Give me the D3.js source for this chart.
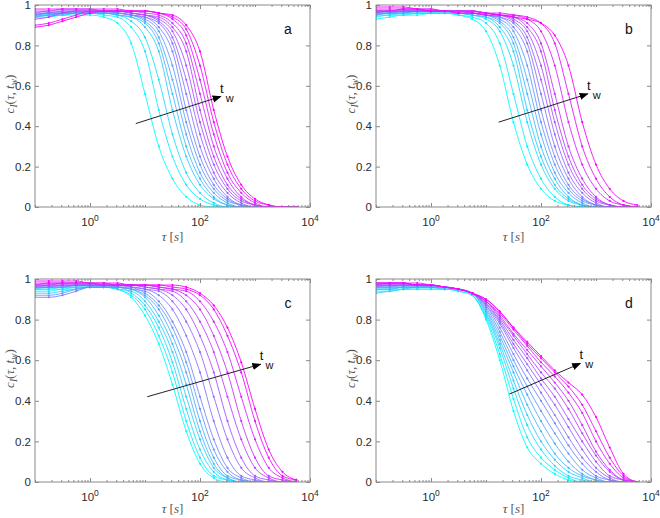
<!DOCTYPE html>
<html>
<head>
<meta charset="utf-8">
<script src="https://cdn.jsdelivr.net/npm/d3@7"></script>
<style>
  body { margin: 0; background: #fff; }
  svg { display: block; }
</style>
</head>
<body>
<svg id="chart" width="660" height="518"></svg>
<script>
// lag times tau [s] shared by every curve (quarter-decade steps)
const tauGrid = [0.1, 0.178, 0.316, 0.562, 1, 1.78, 3.16, 5.62, 10, 17.8, 31.6, 56.2, 100, 178, 316, 562, 1000, 1778, 3162, 5623];

// c_I(tau, t_w), one row per waiting time t_w (short -> long, cyan -> magenta)
const curvesA = [
  [0.94,0.94,0.95,0.95,0.95,0.94,0.91,0.81,0.56,0.30,0.14,0.05,0.01,0,0,0,0,0,0,0],
  [0.95,0.95,0.95,0.96,0.96,0.95,0.94,0.89,0.77,0.48,0.25,0.11,0.04,0.01,0,0,0,0,0,0],
  [0.95,0.95,0.96,0.96,0.96,0.96,0.95,0.92,0.84,0.63,0.36,0.17,0.07,0.02,0,0,0,0,0,0],
  [0.94,0.95,0.95,0.96,0.96,0.96,0.95,0.94,0.89,0.77,0.48,0.25,0.11,0.04,0.01,0,0,0,0,0],
  [0.95,0.95,0.96,0.96,0.96,0.96,0.95,0.94,0.91,0.81,0.56,0.30,0.14,0.05,0.01,0,0,0,0,0],
  [0.94,0.95,0.96,0.96,0.96,0.96,0.96,0.95,0.92,0.84,0.63,0.36,0.17,0.07,0.02,0,0,0,0,0],
  [0.95,0.96,0.96,0.96,0.96,0.96,0.96,0.95,0.93,0.87,0.70,0.42,0.21,0.09,0.03,0.01,0,0,0,0],
  [0.95,0.96,0.96,0.96,0.96,0.96,0.96,0.95,0.94,0.89,0.77,0.48,0.25,0.11,0.04,0.01,0,0,0,0],
  [0.95,0.96,0.96,0.97,0.97,0.97,0.96,0.95,0.94,0.91,0.81,0.56,0.30,0.14,0.05,0.01,0,0,0,0],
  [0.96,0.96,0.97,0.97,0.97,0.97,0.97,0.96,0.95,0.92,0.84,0.63,0.36,0.17,0.07,0.02,0,0,0,0],
  [0.96,0.97,0.97,0.97,0.97,0.97,0.97,0.96,0.95,0.93,0.87,0.70,0.42,0.21,0.09,0.03,0.01,0,0,0],
  [0.93,0.94,0.96,0.97,0.97,0.97,0.97,0.96,0.95,0.94,0.89,0.77,0.48,0.25,0.11,0.04,0.01,0,0,0],
  [0.97,0.97,0.98,0.98,0.98,0.97,0.97,0.97,0.96,0.95,0.91,0.81,0.56,0.30,0.14,0.05,0.01,0,0,0],
  [0.90,0.91,0.93,0.95,0.97,0.97,0.97,0.97,0.97,0.96,0.93,0.85,0.63,0.36,0.17,0.07,0.02,0,0,0],
  [0.98,0.98,0.98,0.98,0.98,0.98,0.98,0.97,0.97,0.96,0.94,0.88,0.70,0.42,0.21,0.09,0.03,0.01,0,0],
  [0.89,0.90,0.92,0.94,0.96,0.97,0.97,0.97,0.97,0.96,0.95,0.90,0.77,0.48,0.25,0.11,0.04,0.01,0,0]
];

const curvesB = [
  [0.93,0.94,0.95,0.95,0.96,0.96,0.95,0.93,0.87,0.70,0.42,0.21,0.09,0.03,0.01,0,0,0,0,0],
  [0.94,0.95,0.95,0.96,0.96,0.96,0.95,0.94,0.91,0.81,0.56,0.30,0.14,0.05,0.01,0,0,0,0,0],
  [0.95,0.95,0.96,0.96,0.96,0.96,0.96,0.95,0.93,0.87,0.70,0.42,0.21,0.09,0.03,0.01,0,0,0,0],
  [0.95,0.96,0.96,0.96,0.96,0.96,0.96,0.95,0.94,0.89,0.77,0.48,0.25,0.11,0.04,0.01,0,0,0,0],
  [0.96,0.96,0.96,0.97,0.97,0.97,0.96,0.95,0.94,0.91,0.81,0.56,0.30,0.14,0.05,0.01,0,0,0,0],
  [0.96,0.96,0.97,0.97,0.97,0.97,0.97,0.96,0.95,0.92,0.84,0.63,0.36,0.17,0.07,0.02,0,0,0,0],
  [0.95,0.96,0.96,0.97,0.97,0.97,0.97,0.96,0.95,0.93,0.87,0.70,0.42,0.21,0.09,0.03,0.01,0,0,0],
  [0.96,0.96,0.97,0.97,0.97,0.97,0.97,0.96,0.95,0.94,0.89,0.77,0.48,0.25,0.11,0.04,0.01,0,0,0],
  [0.96,0.97,0.97,0.97,0.97,0.97,0.97,0.96,0.95,0.94,0.91,0.81,0.56,0.30,0.14,0.05,0.01,0,0,0],
  [0.97,0.97,0.97,0.97,0.97,0.97,0.97,0.97,0.96,0.95,0.92,0.84,0.63,0.36,0.17,0.07,0.02,0,0,0],
  [0.96,0.97,0.97,0.97,0.97,0.97,0.97,0.97,0.96,0.95,0.93,0.87,0.70,0.42,0.21,0.09,0.03,0.01,0,0],
  [0.97,0.97,0.97,0.97,0.97,0.97,0.97,0.97,0.96,0.95,0.94,0.89,0.77,0.48,0.25,0.11,0.04,0.01,0,0],
  [0.97,0.97,0.98,0.98,0.98,0.97,0.97,0.97,0.96,0.95,0.94,0.91,0.81,0.56,0.30,0.14,0.05,0.01,0,0],
  [0.97,0.97,0.98,0.98,0.98,0.97,0.97,0.97,0.96,0.96,0.95,0.93,0.87,0.70,0.42,0.21,0.09,0.03,0.01,0],
  [0.98,0.98,0.98,0.98,0.97,0.97,0.96,0.96,0.96,0.95,0.95,0.94,0.91,0.81,0.56,0.30,0.14,0.05,0.01,0],
  [0.99,0.99,0.99,0.98,0.97,0.97,0.96,0.96,0.95,0.95,0.94,0.93,0.91,0.85,0.70,0.42,0.21,0.09,0.03,0.01]
];

const curvesC = [
  [0.95,0.95,0.95,0.96,0.96,0.96,0.95,0.91,0.82,0.68,0.48,0.25,0.09,0.02,0,0,0,0,0,0],
  [0.94,0.94,0.95,0.95,0.96,0.96,0.95,0.92,0.85,0.72,0.54,0.30,0.12,0.03,0.01,0,0,0,0,0],
  [0.95,0.95,0.96,0.96,0.96,0.96,0.96,0.93,0.87,0.76,0.59,0.36,0.16,0.05,0.01,0,0,0,0,0],
  [0.93,0.93,0.94,0.95,0.96,0.96,0.95,0.94,0.89,0.79,0.64,0.42,0.21,0.07,0.02,0,0,0,0,0],
  [0.95,0.96,0.96,0.96,0.96,0.96,0.96,0.95,0.91,0.82,0.68,0.48,0.25,0.09,0.02,0,0,0,0,0],
  [0.92,0.92,0.93,0.95,0.96,0.96,0.96,0.95,0.92,0.85,0.72,0.54,0.30,0.12,0.03,0.01,0,0,0,0],
  [0.96,0.96,0.96,0.97,0.97,0.97,0.97,0.96,0.93,0.87,0.76,0.59,0.36,0.16,0.05,0.01,0,0,0,0],
  [0.96,0.96,0.96,0.97,0.97,0.97,0.96,0.95,0.94,0.89,0.79,0.64,0.42,0.21,0.07,0.02,0,0,0,0],
  [0.91,0.91,0.92,0.94,0.96,0.96,0.96,0.96,0.95,0.92,0.85,0.72,0.54,0.30,0.12,0.03,0.01,0,0,0],
  [0.96,0.96,0.97,0.97,0.97,0.97,0.97,0.96,0.95,0.94,0.89,0.79,0.64,0.42,0.21,0.07,0.02,0,0,0],
  [0.96,0.97,0.97,0.97,0.97,0.97,0.97,0.97,0.96,0.95,0.92,0.85,0.72,0.54,0.30,0.12,0.03,0.01,0,0],
  [0.97,0.97,0.97,0.97,0.97,0.97,0.97,0.97,0.96,0.95,0.94,0.89,0.79,0.64,0.42,0.21,0.07,0.02,0,0],
  [0.97,0.97,0.98,0.98,0.98,0.97,0.97,0.97,0.97,0.96,0.95,0.92,0.85,0.72,0.54,0.30,0.12,0.03,0.01,0],
  [0.97,0.98,0.98,0.98,0.98,0.97,0.97,0.97,0.97,0.96,0.95,0.94,0.89,0.79,0.64,0.42,0.21,0.07,0.02,0],
  [0.98,0.98,0.98,0.98,0.98,0.98,0.97,0.97,0.97,0.97,0.96,0.95,0.92,0.85,0.72,0.54,0.30,0.12,0.03,0.01],
  [0.99,0.99,0.99,0.99,0.98,0.98,0.98,0.97,0.97,0.97,0.97,0.96,0.93,0.87,0.76,0.59,0.36,0.16,0.05,0.01]
];

const curvesD = [
  [0.95,0.95,0.95,0.95,0.95,0.95,0.94,0.92,0.80,0.60,0.35,0.17,0.09,0.04,0.01,0,0,0,0,0],
  [0.94,0.94,0.95,0.95,0.95,0.95,0.94,0.92,0.81,0.63,0.41,0.22,0.12,0.06,0.02,0,0,0,0,0],
  [0.95,0.95,0.96,0.96,0.96,0.95,0.95,0.92,0.82,0.66,0.46,0.28,0.16,0.08,0.03,0.01,0,0,0,0],
  [0.93,0.94,0.95,0.96,0.96,0.95,0.95,0.93,0.83,0.68,0.50,0.33,0.20,0.11,0.05,0.02,0,0,0,0],
  [0.96,0.96,0.96,0.96,0.96,0.96,0.95,0.93,0.84,0.70,0.54,0.38,0.25,0.14,0.07,0.03,0.01,0,0,0],
  [0.95,0.95,0.96,0.96,0.96,0.96,0.95,0.93,0.85,0.72,0.57,0.43,0.30,0.19,0.10,0.04,0.01,0,0,0],
  [0.96,0.96,0.96,0.96,0.96,0.96,0.95,0.93,0.86,0.74,0.60,0.47,0.35,0.24,0.14,0.06,0.02,0,0,0],
  [0.96,0.96,0.97,0.97,0.96,0.96,0.95,0.93,0.87,0.76,0.63,0.51,0.40,0.29,0.18,0.09,0.03,0.01,0,0],
  [0.96,0.97,0.97,0.97,0.97,0.96,0.95,0.93,0.87,0.78,0.66,0.55,0.44,0.33,0.22,0.12,0.05,0.01,0,0],
  [0.97,0.97,0.97,0.97,0.97,0.96,0.95,0.93,0.88,0.79,0.68,0.58,0.48,0.38,0.27,0.16,0.07,0.02,0,0],
  [0.97,0.97,0.97,0.97,0.97,0.96,0.95,0.93,0.88,0.80,0.70,0.61,0.51,0.42,0.31,0.20,0.10,0.03,0.01,0],
  [0.97,0.97,0.97,0.97,0.97,0.96,0.95,0.93,0.89,0.81,0.72,0.63,0.54,0.46,0.36,0.24,0.13,0.05,0.01,0],
  [0.97,0.98,0.98,0.97,0.97,0.96,0.95,0.93,0.89,0.82,0.73,0.65,0.57,0.49,0.40,0.28,0.15,0.06,0.01,0],
  [0.98,0.98,0.98,0.97,0.97,0.96,0.95,0.93,0.89,0.83,0.75,0.67,0.59,0.52,0.44,0.34,0.20,0.09,0.02,0],
  [0.98,0.98,0.98,0.98,0.97,0.96,0.95,0.93,0.90,0.84,0.76,0.68,0.61,0.54,0.47,0.38,0.25,0.12,0.03,0],
  [0.98,0.98,0.98,0.97,0.97,0.96,0.95,0.93,0.90,0.84,0.76,0.69,0.62,0.55,0.49,0.43,0.32,0.17,0.04,0]
];

// axis ticks
const yTicks = [0, 0.2, 0.4, 0.6, 0.8, 1];
const xMajorExp = [0, 2, 4];
const panelNames = ["a", "b", "c", "d"];

// panel boxes (pixels) and t_w arrow ends in data units
const panels = [
  { data: curvesA, x0: 35,  x1: 310, yTop: 5,   yBot: 207, xlab: 34, arrow: [[6.8, 0.413], [238, 0.547]] },
  { data: curvesB, x0: 376, x1: 651, yTop: 5,   yBot: 207, xlab: 34, arrow: [[17, 0.42], [708, 0.56]] },
  { data: curvesC, x0: 35,  x1: 310, yTop: 279, yBot: 482, xlab: 31, arrow: [[11, 0.42], [1260, 0.58]] },
  { data: curvesD, x0: 376, x1: 651, yTop: 279, yBot: 482, xlab: 31, arrow: [[26.6, 0.433], [518, 0.584]] }
];

const svg = d3.select("#chart");
const axisColor = "#8a8a8a";
const textColor = "#2b2b2b";
const sans = "'Liberation Sans', Arial, Helvetica, sans-serif";
const serif = "'Liberation Serif', 'DejaVu Serif', serif";
const cool = d3.interpolateRgb("#00ffff", "#ff00ff");

svg.append("defs").append("marker")
  .attr("id", "head")
  .attr("viewBox", "0 0 10 10")
  .attr("refX", 9).attr("refY", 5)
  .attr("markerWidth", 9).attr("markerHeight", 9)
  .attr("markerUnits", "userSpaceOnUse")
  .attr("orient", "auto")
  .append("path")
  .attr("d", "M0,1 L10,5 L0,9 Z")
  .attr("fill", "#000");

// minor tick positions on the log axis
const minorTicks = [];
for (let e = -1; e <= 3; e++) {
  for (let k = 1; k <= 9; k++) minorTicks.push(k * Math.pow(10, e));
}

panels.forEach((p, pi) => {
  const g = svg.append("g");

  const x = d3.scaleLog().domain([0.1, 1e4]).range([p.x0, p.x1]);
  const y = d3.scaleLinear().domain([0, 1]).range([p.yBot, p.yTop]);

  const clipId = "clip" + pi;
  g.append("clipPath").attr("id", clipId)
    .append("rect")
    .attr("x", p.x0).attr("y", p.yTop - 2)
    .attr("width", p.x1 - p.x0).attr("height", p.yBot - p.yTop + 2);

  const plot = g.append("g").attr("clip-path", `url(#${clipId})`);
  const n = p.data.length;

  const line = d3.line()
    .x((d, i) => x(tauGrid[i]))
    .y(d => y(d))
    .curve(d3.curveMonotoneX);

  p.data.forEach((vals, j) => {
    const col = cool(j / (n - 1));
    plot.append("path")
      .attr("d", line(vals))
      .attr("fill", "none")
      .attr("stroke", col)
      .attr("stroke-width", 0.9);

    plot.selectAll(null)
      .data(vals)
      .enter()
      .append("circle")
      .attr("cx", (d, i) => x(tauGrid[i]))
      .attr("cy", d => y(d))
      .attr("r", 1.1)
      .attr("fill", col);
  });

  // box
  g.append("rect")
    .attr("x", p.x0).attr("y", p.yTop)
    .attr("width", p.x1 - p.x0).attr("height", p.yBot - p.yTop)
    .attr("fill", "none")
    .attr("stroke", axisColor)
    .attr("stroke-width", 1);

  // inward ticks on all four sides
  const sides = [
    [d3.axisBottom, p.yBot], [d3.axisTop, p.yTop]
  ];
  sides.forEach(([ax, yy]) => {
    g.append("g").attr("transform", `translate(0,${yy})`)
      .call(ax(x).tickValues(minorTicks).tickSize(-2).tickFormat(""))
      .call(s => s.select(".domain").remove())
      .call(s => s.selectAll("line").attr("stroke", axisColor));
    g.append("g").attr("transform", `translate(0,${yy})`)
      .call(ax(x).tickValues(xMajorExp.map(e => Math.pow(10, e))).tickSize(-4).tickFormat(""))
      .call(s => s.select(".domain").remove())
      .call(s => s.selectAll("line").attr("stroke", axisColor));
  });

  g.append("g").attr("transform", `translate(${p.x0},0)`)
    .call(d3.axisLeft(y).tickValues(yTicks).tickSize(-4).tickPadding(4).tickFormat(d3.format("")))
    .call(s => s.select(".domain").remove())
    .call(s => s.selectAll("line").attr("stroke", axisColor))
    .call(s => s.selectAll("text")
      .attr("fill", textColor)
      .style("font-family", sans)
      .style("font-size", "11.5px"));

  g.append("g").attr("transform", `translate(${p.x1},0)`)
    .call(d3.axisRight(y).tickValues(yTicks).tickSize(-4).tickFormat(""))
    .call(s => s.select(".domain").remove())
    .call(s => s.selectAll("line").attr("stroke", axisColor));

  // x tick labels 10^n
  xMajorExp.forEach(e => {
    const t = g.append("text")
      .attr("x", x(Math.pow(10, e)))
      .attr("y", p.yBot + 19)
      .attr("text-anchor", "middle")
      .attr("fill", textColor)
      .style("font-family", sans)
      .style("font-size", "11.5px");
    t.append("tspan").text("10");
    t.append("tspan").attr("dy", -5).style("font-size", "8.5px").text(e);
  });

  // x axis label
  const cx = (p.x0 + p.x1) / 2;
  const xl = g.append("text")
    .attr("x", cx)
    .attr("y", p.yBot + p.xlab)
    .attr("text-anchor", "middle")
    .attr("fill", "#555")
    .style("font-family", serif)
    .style("font-size", "13px");
  xl.append("tspan").style("font-style", "italic").text("τ");
  xl.append("tspan").text(" [");
  xl.append("tspan").style("font-style", "italic").text("s");
  xl.append("tspan").text("]");

  // y axis label
  const cy = (p.yTop + p.yBot) / 2 - 12;
  const yl = g.append("text")
    .attr("transform", `translate(${p.x0 - 21},${cy}) rotate(-90)`)
    .attr("text-anchor", "middle")
    .attr("fill", "#555")
    .style("font-family", serif)
    .style("font-size", "13px");
  yl.append("tspan").style("font-style", "italic").text("c");
  yl.append("tspan").attr("dy", 3).style("font-style", "italic").style("font-size", "9.5px").text("I");
  yl.append("tspan").attr("dy", -3).text("(");
  yl.append("tspan").style("font-style", "italic").text("τ");
  yl.append("tspan").text(", ");
  yl.append("tspan").style("font-style", "italic").text("t");
  yl.append("tspan").attr("dy", 3).style("font-style", "italic").style("font-size", "9.5px").text("w");
  yl.append("tspan").attr("dy", -3).text(")");

  // panel letter
  g.append("text")
    .attr("x", p.x1 - 22)
    .attr("y", p.yTop + 29)
    .attr("text-anchor", "middle")
    .attr("fill", "#111")
    .style("font-family", sans)
    .style("font-size", "14px")
    .text(panelNames[pi]);

  // t_w arrow
  const [a0, a1] = p.arrow;
  g.append("line")
    .attr("x1", x(a0[0])).attr("y1", y(a0[1]))
    .attr("x2", x(a1[0])).attr("y2", y(a1[1]))
    .attr("stroke", "#222")
    .attr("stroke-width", 1)
    .attr("marker-end", "url(#head)");

  g.append("text")
    .attr("x", x(a1[0]) + 1)
    .attr("y", y(a1[1]) - 4)
    .attr("text-anchor", "middle")
    .attr("fill", "#111")
    .style("font-family", sans)
    .style("font-size", "13px")
    .text("t");
  g.append("text")
    .attr("x", x(a1[0]) + 9)
    .attr("y", y(a1[1]) + 5)
    .attr("text-anchor", "middle")
    .attr("fill", "#111")
    .style("font-family", sans)
    .style("font-size", "11px")
    .text("w");
});
</script>
</body>
</html>
